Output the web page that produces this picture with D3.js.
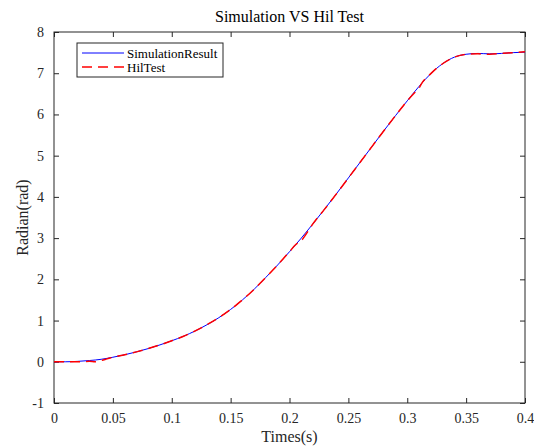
<!DOCTYPE html>
<html>
<head>
<meta charset="utf-8">
<script src="https://cdn.jsdelivr.net/npm/d3@7"></script>
<style>
  body { margin: 0; background: #fff; }
  svg { display: block; }
  svg text { font-family: "Liberation Serif", "DejaVu Serif", serif; }
</style>
</head>
<body>
<div id="chart-area"></div>
<script>
// data
var simTime  = [0, 0.01, 0.02, 0.03, 0.04, 0.05, 0.06, 0.07, 0.08, 0.09, 0.10,
                0.11, 0.12, 0.13, 0.14, 0.15, 0.16, 0.17, 0.18, 0.19, 0.20,
                0.21, 0.22, 0.23, 0.24, 0.25, 0.26, 0.27, 0.28, 0.29, 0.30,
                0.31, 0.32, 0.33, 0.34, 0.35, 0.36, 0.37, 0.38, 0.39, 0.40];
var simValue = [0, 0.0, 0.01, 0.03, 0.06, 0.11, 0.17, 0.24, 0.32, 0.41, 0.51,
                0.62, 0.75, 0.90, 1.07, 1.27, 1.50, 1.76, 2.05, 2.35, 2.67,
                3.00, 3.35, 3.71, 4.08, 4.46, 4.84, 5.22, 5.60, 5.97, 6.33,
                6.68, 6.99, 7.23, 7.39, 7.46, 7.48, 7.47, 7.48, 7.50, 7.51];

var hilTime  = [0, 0.01, 0.02, 0.03, 0.035, 0.04, 0.045, 0.05, 0.06, 0.07, 0.08, 0.09, 0.10,
                0.11, 0.12, 0.13, 0.14, 0.15, 0.16, 0.17, 0.18, 0.19, 0.20,
                0.207, 0.209, 0.211, 0.22, 0.23, 0.24, 0.25, 0.26, 0.27, 0.28, 0.29, 0.30,
                0.308, 0.310, 0.312, 0.32, 0.33, 0.34, 0.35, 0.36, 0.37, 0.38, 0.39, 0.40];
var hilValue = [0, 0.0, 0.0, 0.01, 0.0, 0.03, 0.07, 0.11, 0.17, 0.24, 0.32, 0.41, 0.51,
                0.62, 0.75, 0.90, 1.07, 1.27, 1.50, 1.76, 2.05, 2.35, 2.67,
                2.88, 2.90, 2.97, 3.35, 3.71, 4.08, 4.46, 4.84, 5.22, 5.60, 5.97, 6.33,
                6.58, 6.64, 6.74, 6.99, 7.23, 7.39, 7.46, 7.47, 7.46, 7.48, 7.50, 7.52];

var xTicks = [0, 0.05, 0.1, 0.15, 0.2, 0.25, 0.3, 0.35, 0.4];
var yTicks = [-1, 0, 1, 2, 3, 4, 5, 6, 7, 8];
var seriesNames = ["SimulationResult", "HilTest"];

// define margins and graph size
var margin = { top: 32, left: 54, bottom: 43, right: 9 };
var svgWidth = 534;
var svgHeight = 446;
var width = svgWidth - margin.left - margin.right;
var height = svgHeight - margin.top - margin.bottom;
var axisColor = "#262626";

var svg = d3.select("#chart-area").append("svg")
    .attr("width", svgWidth)
    .attr("height", svgHeight);

var graph = svg.append("g")
    .attr("transform", "translate(" + margin.left + "," + margin.top + ")");

var xScale = d3.scaleLinear().domain([0, 0.4]).range([0, width]);
var yScale = d3.scaleLinear().domain([-1, 8]).range([height, 0]);

// axes, ticks inward on all four sides
function styleAxis(g, showText) {
    g.attr("font-family", null);
    g.select(".domain").remove();
    g.selectAll("line").attr("stroke", axisColor);
    g.selectAll("text")
        .attr("fill", axisColor)
        .attr("font-size", "14px")
        .style("display", showText ? null : "none");
}

graph.append("g")
    .attr("transform", "translate(0," + height + ")")
    .call(d3.axisBottom(xScale).tickValues(xTicks).tickSize(-5).tickPadding(10).tickFormat(d => d))
    .call(g => styleAxis(g, true));

graph.append("g")
    .call(d3.axisTop(xScale).tickValues(xTicks).tickSize(-5))
    .call(g => styleAxis(g, false));

graph.append("g")
    .call(d3.axisLeft(yScale).tickValues(yTicks).tickSize(-5).tickPadding(10).tickFormat(d => d))
    .call(g => styleAxis(g, true));

graph.append("g")
    .attr("transform", "translate(" + width + ",0)")
    .call(d3.axisRight(yScale).tickValues(yTicks).tickSize(-5))
    .call(g => styleAxis(g, false));

graph.append("rect")
    .attr("width", width)
    .attr("height", height)
    .attr("fill", "none")
    .attr("stroke", axisColor)
    .attr("stroke-width", 1);

// lines
var line = d3.line()
    .x(d => xScale(d[0]))
    .y(d => yScale(d[1]))
    .curve(d3.curveMonotoneX);

graph.append("path")
    .datum(d3.zip(simTime, simValue))
    .attr("d", line)
    .attr("fill", "none")
    .attr("stroke", "#0000ff")
    .attr("stroke-width", 1);

graph.append("path")
    .datum(d3.zip(hilTime, hilValue))
    .attr("d", line)
    .attr("fill", "none")
    .attr("stroke", "#ff0000")
    .attr("stroke-width", 1.5)
    .attr("stroke-dasharray", "10,6");

// title and axis labels
svg.append("text")
    .attr("x", margin.left + width / 2)
    .attr("y", 22)
    .attr("text-anchor", "middle")
    .attr("font-size", "16px")
    .attr("fill", "#000")
    .text("Simulation VS Hil Test");

svg.append("text")
    .attr("x", margin.left + width / 2)
    .attr("y", 442)
    .attr("text-anchor", "middle")
    .attr("font-size", "16px")
    .attr("fill", axisColor)
    .text("Times(s)");

svg.append("text")
    .attr("transform", "translate(28," + (margin.top + height / 2) + ") rotate(-90)")
    .attr("text-anchor", "middle")
    .attr("font-size", "16px")
    .attr("fill", axisColor)
    .text("Radian(rad)");

// legend
var legend = svg.append("g").attr("transform", "translate(77,43)");
legend.append("rect")
    .attr("width", 146)
    .attr("height", 34)
    .attr("fill", "#fff")
    .attr("stroke", axisColor)
    .attr("stroke-width", 1);

var legendStyles = [
    { color: "#0000ff", width: 1, dash: null },
    { color: "#ff0000", width: 1.5, dash: "10,6" }
];
seriesNames.forEach(function(name, i) {
    var y = 10 + i * 14;
    legend.append("line")
        .attr("x1", 5).attr("x2", 47)
        .attr("y1", y).attr("y2", y)
        .attr("stroke", legendStyles[i].color)
        .attr("stroke-width", legendStyles[i].width)
        .attr("stroke-dasharray", legendStyles[i].dash);
    legend.append("text")
        .attr("x", 50)
        .attr("y", y + 4.5)
        .attr("font-size", "13px")
        .attr("fill", "#000")
        .text(name);
});
</script>
</body>
</html>
